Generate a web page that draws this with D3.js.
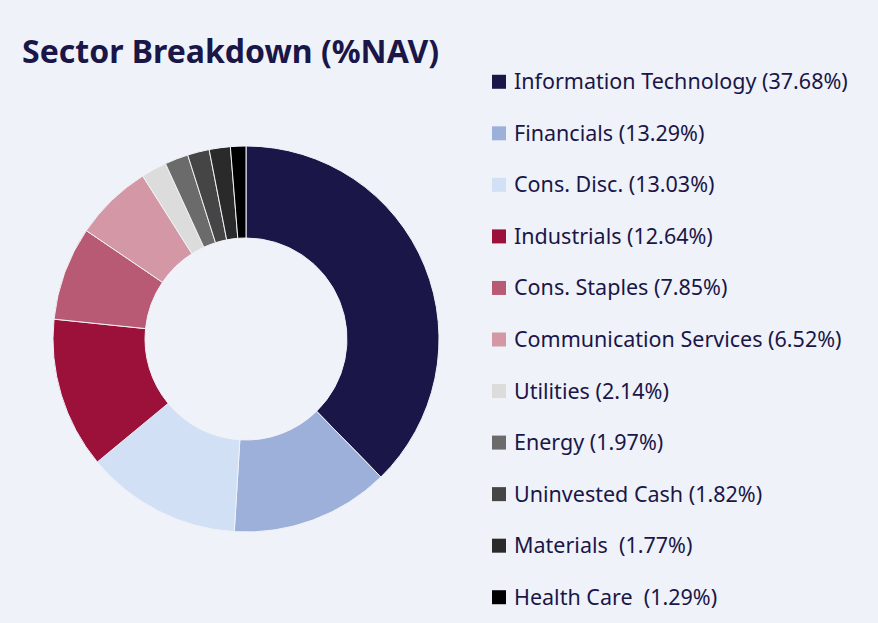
<!DOCTYPE html>
<html><head><meta charset="utf-8">
<script src="https://cdn.jsdelivr.net/npm/d3@7"></script>
<style>body{margin:0;background:#eff2f8}svg{display:block}</style>
</head><body><svg id="chart"></svg>
<script>
const sectors = ["Information Technology", "Financials", "Cons. Disc.", "Industrials", "Cons. Staples",
  "Communication Services", "Utilities", "Energy", "Uninvested Cash", "Materials ", "Health Care "];
const weights = [37.68, 13.29, 13.03, 12.64, 7.85, 6.52, 2.14, 1.97, 1.82, 1.77, 1.29];
const colors = ["#1a1648", "#9db0da", "#d1e0f5", "#9b1139", "#b85a73", "#d497a6", "#dcdcdc", "#6b6b6b", "#454545", "#2a2a2a", "#000000"];

const width = 878, height = 623;
const svg = d3.select("#chart").attr("width", width).attr("height", height);
svg.append("rect").attr("width", width).attr("height", height).attr("fill", "#eff2f8");

svg.append("text").attr("x", 22).attr("y", 63)
  .attr("font-family", "'Source Sans Pro','Noto Sans',sans-serif").attr("font-weight", 700)
  .attr("font-size", 32).attr("fill", "#1a1648").text("Sector Breakdown (%NAV)");

const data = sectors.map((s, i) => ({ name: s, value: weights[i], color: colors[i] }));
const pie = d3.pie().value(d => d.value).sort(null);
const arc = d3.arc().innerRadius(101).outerRadius(193);

svg.append("g").attr("transform", "translate(246,339)")
  .selectAll("path").data(pie(data)).join("path")
  .attr("d", arc).attr("fill", d => d.data.color)
  .attr("stroke", "#eff2f8").attr("stroke-width", 1);

const y = d3.scaleBand().domain(sectors).range([56, 623]).paddingInner(0);
const legend = svg.append("g").selectAll("g").data(data).join("g")
  .attr("transform", d => `translate(492,${y(d.name) + y.bandwidth() / 2})`);
legend.append("rect").attr("x", 0).attr("y", -7).attr("width", 14).attr("height", 14).attr("fill", d => d.color);
legend.append("text").attr("x", 22).attr("y", 0).attr("dy", "0.35em")
  .attr("font-family", "'Source Sans Pro','Noto Sans',sans-serif").attr("font-size", 21.5)
  .attr("fill", "#1a1648").attr("xml:space", "preserve")
  .text(d => d.name.endsWith(" ") ? `${d.name} (${d.value.toFixed(2)}%)` : `${d.name} (${d.value.toFixed(2)}%)`);
</script></body></html>
